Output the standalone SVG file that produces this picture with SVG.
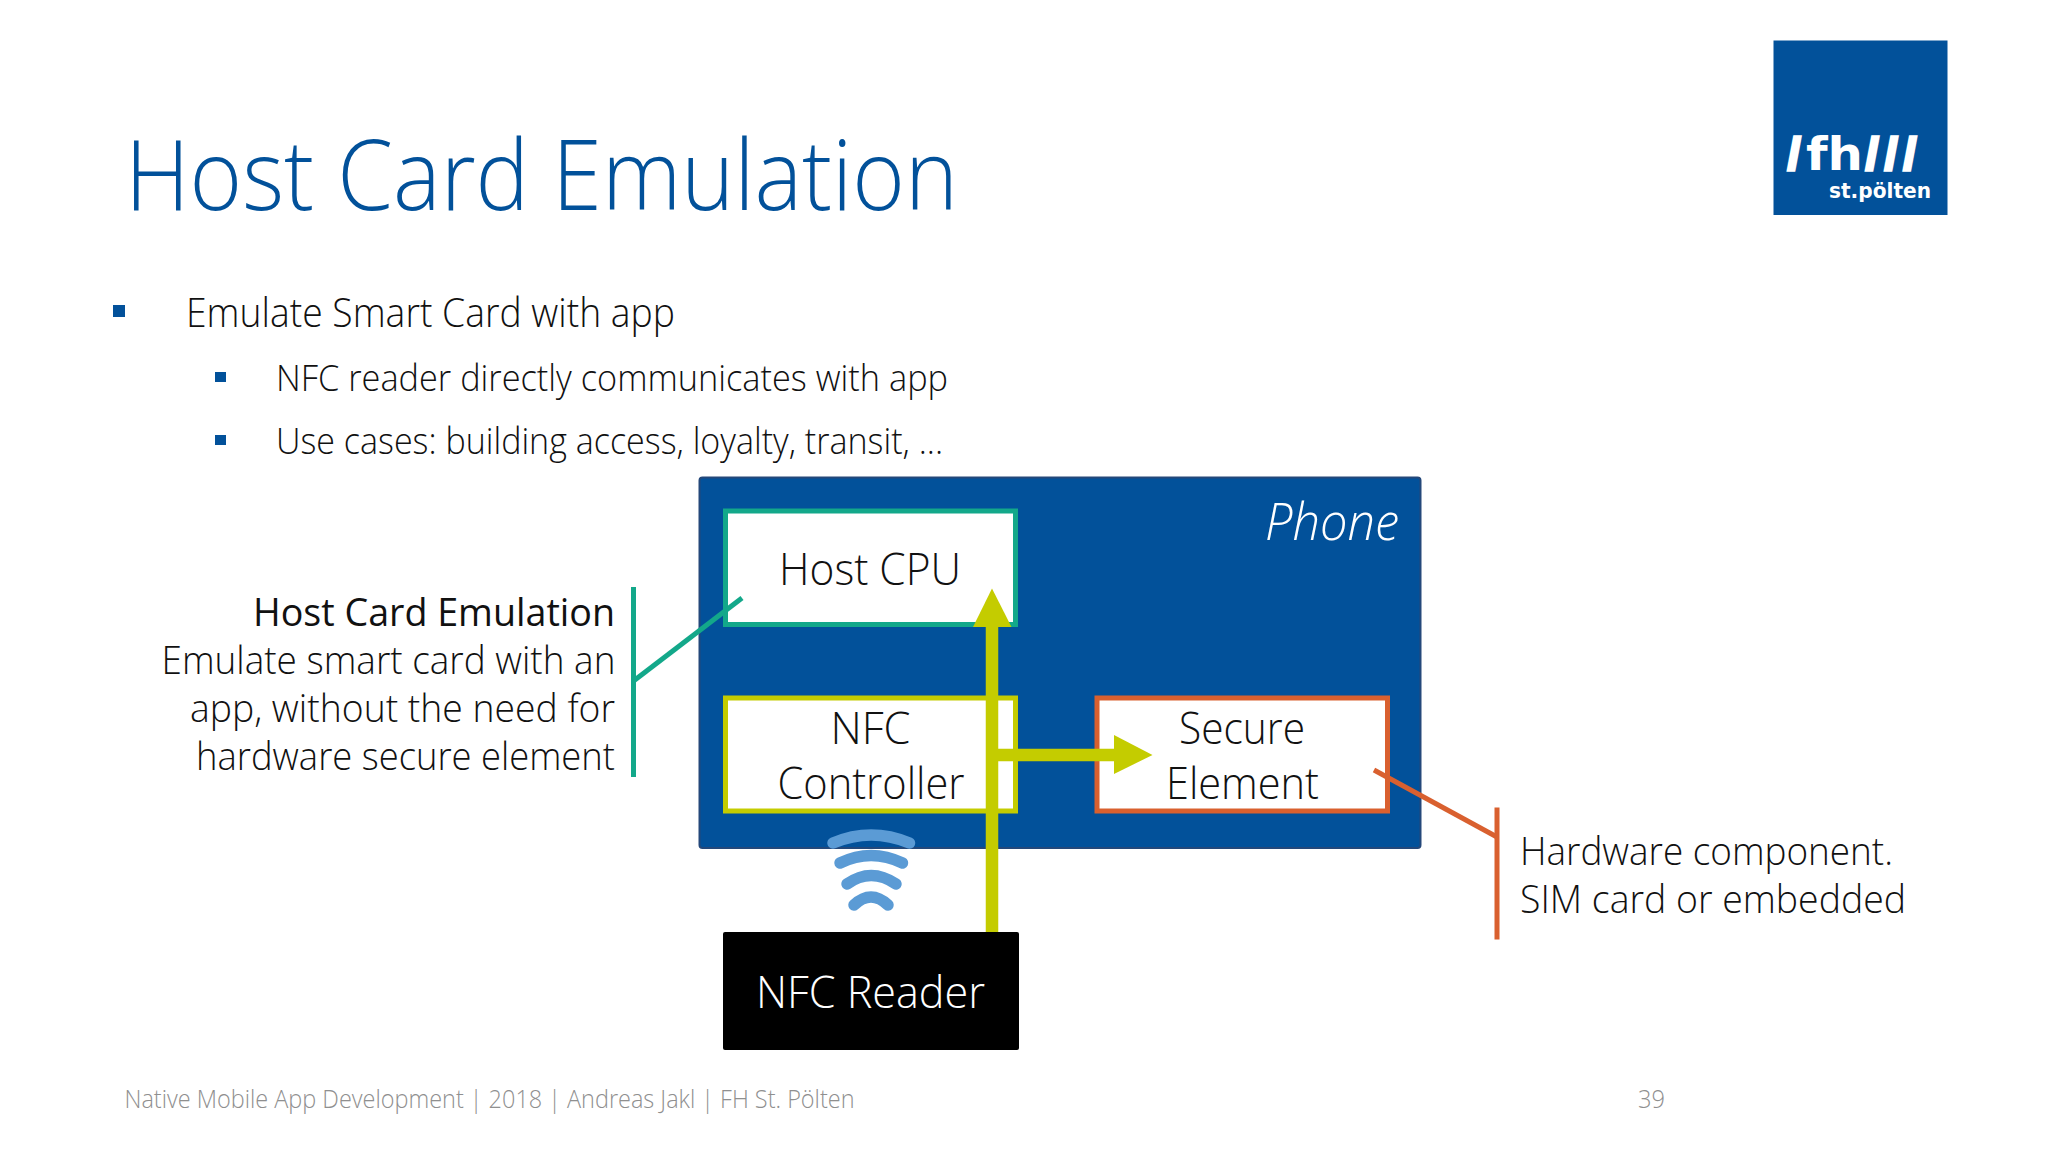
<svg xmlns="http://www.w3.org/2000/svg" width="2048" height="1152" viewBox="0 0 2048 1152">
<style>
text{font-family:"Open Sans","Noto Sans","Liberation Sans",sans-serif;font-weight:300;fill:#111}
.box{fill:#fff;stroke-width:5}
.lbl{font-size:45px}
.side{font-size:38px}
.logo{font-family:"DejaVu Sans","Liberation Sans",sans-serif;font-weight:700;fill:#fff}
.slash{font-family:"Liberation Sans",sans-serif;font-weight:700;fill:#fff;stroke:#fff;stroke-width:3.500;font-size:44px}
.wave{fill:none;stroke:#5b9bd5;stroke-width:11.500;stroke-linecap:round}
.y{stroke:#c4cc00;fill:none}
.tri{fill:#c4cc00}
</style>
<rect width="2048" height="1152" fill="#fff"/>
<g id="title"><text x="125" y="210" font-size="97" style="fill:#02519a" textLength="833" lengthAdjust="spacingAndGlyphs">Host Card Emulation</text></g>
<g id="logo">
<rect x="1773.500" y="40.500" width="174" height="174.500" fill="#02519a"/>
<text class="slash" x="1788" y="169">/</text>
<text class="logo" x="1806" y="170" font-size="46" textLength="57" lengthAdjust="spacingAndGlyphs">fh</text>
<text class="slash" x="1866" y="169" textLength="50">///</text>
<text class="logo" x="1829" y="197.500" font-size="22" textLength="102" lengthAdjust="spacingAndGlyphs">st.pölten</text>
</g>
<g id="bullets">
<rect x="113" y="305" width="12" height="12" fill="#02519a"/>
<text x="186" y="327" font-size="40" textLength="489" lengthAdjust="spacingAndGlyphs">Emulate Smart Card with app</text>
<rect x="215" y="372" width="11" height="10" fill="#02519a"/>
<text x="276" y="391" font-size="36" textLength="672" lengthAdjust="spacingAndGlyphs">NFC reader directly communicates with app</text>
<rect x="215" y="435" width="11" height="10" fill="#02519a"/>
<text x="276" y="454" font-size="36" textLength="667" lengthAdjust="spacingAndGlyphs">Use cases: building access, loyalty, transit, ...</text>
</g>
<g id="phone">
<rect x="699.500" y="477.500" width="721" height="370.500" rx="3" fill="#02519a" stroke="#24487a" stroke-width="2"/>
<text x="1265" y="540" font-style="italic" style="fill:#fff" font-size="52" textLength="134" lengthAdjust="spacingAndGlyphs">Phone</text>
</g>
<g id="host-cpu">
<rect class="box" x="725.500" y="511" width="290" height="113.500" stroke="#13a88a"/>
<text class="lbl" x="779" y="585" textLength="182" lengthAdjust="spacingAndGlyphs">Host CPU</text>
</g>
<g id="nfc-controller">
<rect class="box" x="725.500" y="698" width="290" height="113" stroke="#c4cc00"/>
<text class="lbl" x="830.500" y="744" textLength="80" lengthAdjust="spacingAndGlyphs">NFC</text>
<text class="lbl" x="777.500" y="799" textLength="187" lengthAdjust="spacingAndGlyphs">Controller</text>
</g>
<g id="secure-element">
<rect class="box" x="1097" y="698" width="290.500" height="113" stroke="#d9602f"/>
<text class="lbl" x="1179" y="744" textLength="126" lengthAdjust="spacingAndGlyphs">Secure</text>
<text class="lbl" x="1166" y="799" textLength="153" lengthAdjust="spacingAndGlyphs">Element</text>
</g>
<g id="nfc-reader">
<rect x="723" y="932" width="296" height="118" rx="2" fill="#000"/>
<text class="lbl" x="756" y="1008" style="fill:#fff" textLength="229" lengthAdjust="spacingAndGlyphs">NFC Reader</text>
</g>
<g id="nfc-waves">
<path class="wave" d="M833 843Q871 827 909.500 843"/>
<path class="wave" d="M840 863Q871 848 902.500 863"/>
<path class="wave" d="M847 884Q871 867 896 884"/>
<path class="wave" d="M854 905Q871 889 888 905"/>
</g>
<g id="connectors">
<path class="y" stroke-width="12.500" d="M992 932V620"/>
<path class="tri" d="M992 588.500L973 627H1011.500Z"/>
<path class="y" stroke-width="12.500" d="M998 755H1116"/>
<path class="tri" d="M1114 735L1152.500 755L1114 774Z"/>
<path d="M633.500 681L742 598" stroke="#13a88a" stroke-width="5" fill="none"/>
<path d="M633.500 587V777" stroke="#13a88a" stroke-width="5" fill="none"/>
<path d="M1374 770L1497 837" stroke="#d9602f" stroke-width="5" fill="none"/>
<path d="M1497 807.500V939.500" stroke="#d9602f" stroke-width="5" fill="none"/>
</g>
<g id="hce-note">
<text class="side" x="253" y="626" style="font-weight:400" textLength="362" lengthAdjust="spacingAndGlyphs">Host Card Emulation</text>
<text class="side" x="161.500" y="674" textLength="454" lengthAdjust="spacingAndGlyphs">Emulate smart card with an</text>
<text class="side" x="190" y="722" textLength="425" lengthAdjust="spacingAndGlyphs">app, without the need for</text>
<text class="side" x="196" y="770" textLength="419" lengthAdjust="spacingAndGlyphs">hardware secure element</text>
</g>
<g id="hw-note">
<text class="side" x="1520" y="865" textLength="373" lengthAdjust="spacingAndGlyphs">Hardware component.</text>
<text class="side" x="1520" y="913" textLength="386" lengthAdjust="spacingAndGlyphs">SIM card or embedded</text>
</g>
<g id="footer">
<text x="124.500" y="1108" font-size="26" style="fill:#8f8f8f" textLength="730" lengthAdjust="spacingAndGlyphs">Native Mobile App Development | 2018 | Andreas Jakl | FH St. Pölten</text>
<text x="1638" y="1108" font-size="26" style="fill:#8f8f8f" textLength="27" lengthAdjust="spacingAndGlyphs">39</text>
</g>
</svg>
